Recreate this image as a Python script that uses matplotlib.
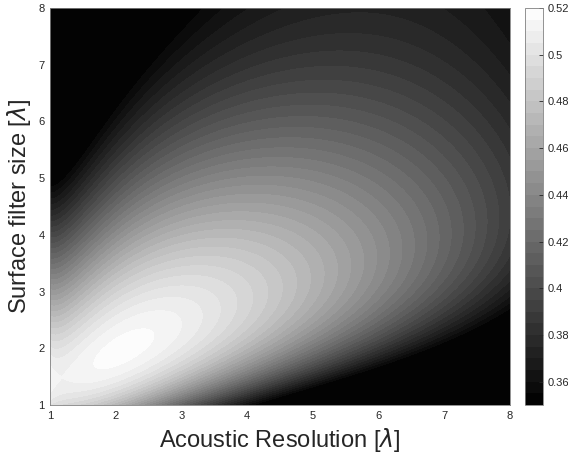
import numpy as np
import matplotlib.pyplot as plt

# values at integer grid points (rows: y = 1..8, cols: x = 1..8)
acoustic_res = [1, 2, 3, 4, 5, 6, 7, 8]
filter_size = [1, 2, 3, 4, 5, 6, 7, 8]
values = [
    [0.500, 0.467, 0.420, 0.355, 0.320, 0.290, 0.270, 0.250],  # y = 1
    [0.502, 0.518, 0.505, 0.478, 0.420, 0.378, 0.345, 0.320],  # y = 2
    [0.446, 0.490, 0.503, 0.490, 0.467, 0.440, 0.405, 0.367],  # y = 3
    [0.393, 0.440, 0.472, 0.470, 0.460, 0.445, 0.415, 0.385],  # y = 4
    [0.358, 0.392, 0.430, 0.446, 0.446, 0.435, 0.415, 0.382],  # y = 5
    [0.300, 0.368, 0.395, 0.408, 0.410, 0.405, 0.395, 0.377],  # y = 6
    [0.270, 0.340, 0.370, 0.383, 0.388, 0.388, 0.382, 0.370],  # y = 7
    [0.250, 0.320, 0.355, 0.365, 0.370, 0.371, 0.368, 0.364],  # y = 8
]
# where the darkest band (0.355) starts, read along its edge
edge_x = [1.03, 1.43, 1.94, 2.45, 2.95, 3.51, 4.0, 4.35, 5.37, 6.37, 7.39, 8.0]
edge_y = [5.05, 5.27, 5.80, 6.50, 7.26, 7.98, 1.0, 1.14, 1.44, 1.85, 2.38, 2.71]
edge_level = 0.355
# brightest spot
peak_x, peak_y, peak_val = 2.05, 2.17, 0.519

levels = np.arange(0.35, 0.5201, 0.005)
cbar_ticks = [0.36, 0.38, 0.40, 0.42, 0.44, 0.46, 0.48, 0.50, 0.52]

plt.rcParams['font.family'] = ['Liberation Sans', 'DejaVu Sans']

# smooth surface through the readings (least squares in log coordinates)
X, Y = np.meshgrid(acoustic_res, filter_size)
px = np.concatenate([X.ravel(), edge_x, [peak_x]])
py = np.concatenate([Y.ravel(), edge_y, [peak_y]])
pz = np.concatenate([np.array(values).ravel(), np.full(len(edge_x), edge_level), [peak_val]])
deg = 5


def basis(u, v):
    return np.stack([u**i * v**j for i in range(deg + 1) for j in range(deg + 1 - i)], axis=-1)


coef, *_ = np.linalg.lstsq(basis(np.log(px), np.log(py)), pz, rcond=None)

xf = np.linspace(1, 8, 300)
yf = np.linspace(1, 8, 300)
XF, YF = np.meshgrid(xf, yf)
ZF = basis(np.log(XF), np.log(YF)) @ coef
ZF = np.clip(ZF, levels[0] + 1e-4, levels[-1] - 1e-4)

fig = plt.figure(figsize=(5.68, 4.57), dpi=100)
ax = fig.add_axes([50 / 568, 52 / 457, 460 / 568, 397 / 457])
cax = fig.add_axes([525 / 568, 52 / 457, 18 / 568, 397 / 457])

cs = ax.contourf(XF, YF, ZF, levels=levels, cmap='gray', vmin=levels[0], vmax=levels[-1])
ax.set_xlim(1, 8)
ax.set_ylim(1, 8)
ax.set_xticks(acoustic_res)
ax.set_yticks(filter_size)
ax.tick_params(length=0, labelsize=8, colors='#262626', pad=4)
for s in ax.spines.values():
    s.set_color('#808080')
    s.set_linewidth(0.6)
ax.set_xlabel(r'Acoustic Resolution [$\lambda$]', fontsize=17, color='#262626')
ax.set_ylabel(r'Surface filter size [$\lambda$]', fontsize=17, color='#262626')

cb = fig.colorbar(cs, cax=cax, ticks=cbar_ticks)
cb.ax.set_yticklabels(['0.36', '0.38', '0.4', '0.42', '0.44', '0.46', '0.48', '0.5', '0.52'])
cb.ax.tick_params(labelsize=8, direction='in', length=3, width=0.6, colors='#262626')
cb.outline.set_edgecolor('#808080')
cb.outline.set_linewidth(0.6)

fig.savefig('out.png', dpi=100)
